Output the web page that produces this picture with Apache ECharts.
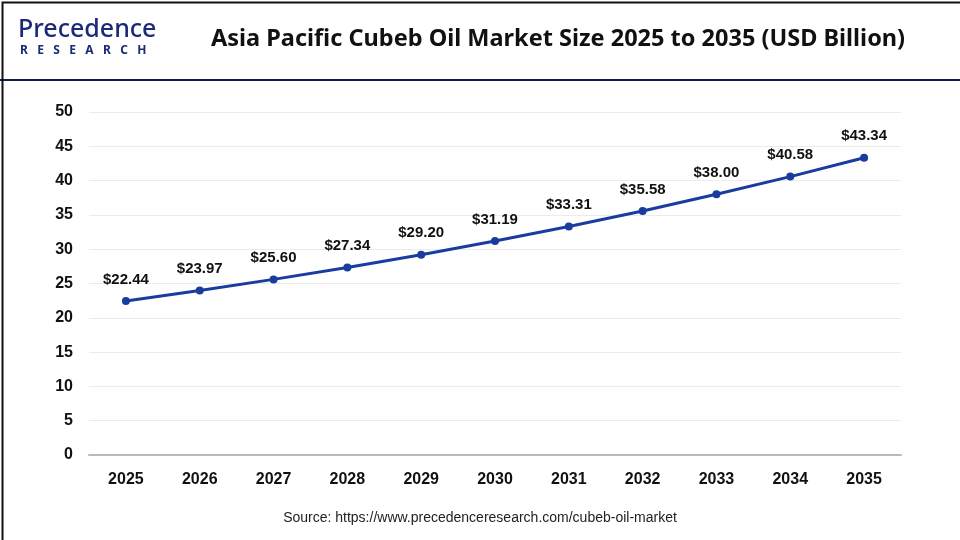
<!DOCTYPE html>
<html>
<head>
<meta charset="utf-8">
<script src="https://cdn.jsdelivr.net/npm/echarts@6/dist/echarts.min.js"></script>
<style>
  html, body { margin: 0; padding: 0; background: #fff; }
  #chart { width: 960px; height: 540px; }
</style>
</head>
<body>
<div id="chart"></div>
<script>
const years = ['2025', '2026', '2027', '2028', '2029', '2030', '2031', '2032', '2033', '2034', '2035']
const marketSize = [22.44, 23.97, 25.60, 27.34, 29.20, 31.19, 33.31, 35.58, 38.00, 40.58, 43.34]
const yTicks = { min: 0, max: 50, interval: 5 }

const chart = echarts.init(document.getElementById('chart'))
chart.setOption({
  animation: false,
  backgroundColor: '#fff',
  textStyle: { fontFamily: 'Liberation Sans, Arial, sans-serif' },
  graphic: [
    // outer frame
    { type: 'rect', left: 0, top: 0, shape: { width: 959, height: 539 },
      style: { fill: 'none', stroke: '#111', lineWidth: 2 }, z: 10 },
    // header divider
    { type: 'rect', left: 0, top: 79, shape: { width: 960, height: 2 },
      style: { fill: '#0f1a4d' } },
    // logo
    { type: 'text', left: 18, top: 17,
      style: { text: 'Precedence', fill: '#1b2a78', font: '500 25px "Noto Sans", sans-serif' } },
    { type: 'text', left: 20, top: 45,
      style: { text: 'R   E   S   E   A   R   C   H', fill: '#1b2a78', font: 'bold 12px "Noto Sans", sans-serif' } },
    // title
    { type: 'text', left: 211, top: 27,
      style: { text: 'Asia Pacific Cubeb Oil Market Size 2025 to 2035 (USD Billion)',
        fill: '#111', font: 'bold 23.5px "Noto Sans", sans-serif' } },
    // source
    { type: 'text', left: 'center', top: 511,
      style: { text: 'Source: https://www.precedenceresearch.com/cubeb-oil-market',
        fill: '#222', font: '14px "Liberation Sans", Arial, sans-serif' } }
  ],
  grid: { left: 89, right: 59, top: 112, bottom: 85 },
  xAxis: {
    type: 'category',
    data: years,
    boundaryGap: true,
    axisLine: { lineStyle: { color: '#bbb', width: 2 } },
    axisTick: { show: false },
    axisLabel: { color: '#111', fontWeight: 'bold', fontSize: 16, margin: 17 }
  },
  yAxis: {
    type: 'value',
    min: yTicks.min,
    max: yTicks.max,
    interval: yTicks.interval,
    axisLine: { show: false },
    axisTick: { show: false },
    splitLine: { lineStyle: { color: '#ebebeb', width: 1 } },
    axisLabel: { color: '#111', fontWeight: 'bold', fontSize: 16, margin: 16 }
  },
  series: [
    {
      type: 'line',
      data: marketSize,
      symbol: 'circle',
      symbolSize: 8,
      lineStyle: { color: '#1a3c9e', width: 3 },
      itemStyle: { color: '#1a3c9e' },
      label: {
        show: true,
        position: 'top',
        distance: 10,
        color: '#111',
        fontWeight: 'bold',
        fontSize: 15,
        formatter: (p) => '$' + p.value.toFixed(2)
      }
    }
  ]
})
</script>
</body>
</html>
